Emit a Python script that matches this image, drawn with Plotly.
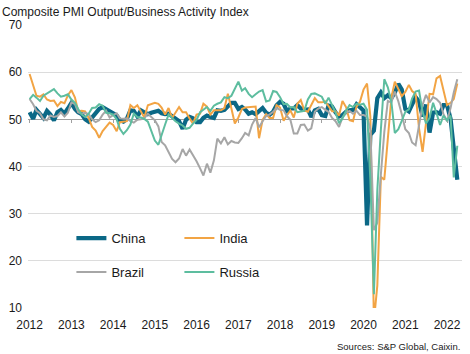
import pandas as pd
import plotly.graph_objects as go

months = pd.date_range("2012-01-01", "2022-04-01", freq="MS")

china = [
    51.5, 50.1, 52.0, 51.1, 50.3, 51.8, 51.0, 49.8, 51.5, 52.0, 51.2, 52.3,
    53.5, 52.2, 51.5, 51.1, 50.0, 49.5, 50.4, 51.5, 52.2, 52.6, 52.2, 51.9,
    51.3, 50.8, 49.8, 49.5, 50.1, 51.9, 51.8, 50.6, 51.9, 51.5, 51.1, 51.4,
    51.7, 51.8, 51.3, 51.1, 51.2, 50.6, 50.3, 49.6, 48.0, 49.9, 50.5, 50.2,
    49.4, 49.4, 50.3, 50.8, 50.5, 50.3, 51.9, 51.8, 52.0, 52.9, 53.5, 53.5,
    52.2, 52.6, 52.1, 51.2, 51.5, 51.1, 51.9, 52.4, 51.4, 51.0, 51.6, 53.0,
    53.7, 53.3, 51.8, 52.3, 52.3, 53.0, 52.3, 52.0, 52.1, 50.5, 51.9, 52.2,
    50.9, 50.7, 52.9, 52.7, 51.5, 50.6, 50.9, 51.6, 51.9, 52.0, 53.2, 52.6,
    51.9, 27.5, 46.7, 47.6, 54.5, 55.7, 54.5, 55.1, 54.5, 55.7, 57.5, 56.3,
    52.2, 51.7, 53.1, 54.7, 53.8, 50.6, 53.1, 47.2, 51.4, 51.5, 51.2, 53.0,
    53.0, 50.1, 43.9, 37.2,
]
india = [
    59.6, 57.0, 55.0, 54.8, 55.3, 54.2, 53.9, 54.0, 52.8, 53.7, 53.4, 55.1,
    56.2, 54.6, 51.7, 51.8, 51.7, 50.3, 48.4, 47.6, 46.1, 47.5, 48.5, 49.3,
    48.8, 47.5, 49.4, 49.5, 49.6, 53.0, 52.4, 53.0, 51.6, 50.4, 53.0, 53.3,
    53.5, 53.3, 52.5, 51.0, 52.4, 50.3, 51.5, 52.6, 51.5, 51.5, 50.2, 49.1,
    51.0, 51.2, 53.3, 52.7, 51.0, 51.9, 51.9, 51.9, 52.4, 55.4, 52.3, 49.1,
    50.4, 52.2, 52.5, 52.6, 52.7, 52.7, 46.0, 49.9, 51.1, 50.3, 50.3, 53.0,
    52.5, 49.7, 50.8, 51.9, 50.4, 53.3, 54.1, 51.9, 51.6, 53.0, 54.5, 53.6,
    53.6, 53.8, 52.7, 51.7, 51.7, 50.8, 53.9, 52.6, 49.8, 49.6, 52.7, 53.7,
    56.3, 57.6, 50.6, 7.2, 14.8, 37.8, 37.2, 46.0, 54.6, 58.0, 56.3, 54.9,
    55.8, 57.3, 56.0, 55.4, 48.1, 43.1, 49.2, 55.4, 55.3, 58.7, 59.2, 56.4,
    53.0, 53.5, 54.3, 57.6,
]
brazil = [
    54.3, 53.2, 51.8, 51.3, 50.0, 49.8, 50.8, 50.5, 50.7, 51.5, 50.6, 51.4,
    53.6, 53.2, 51.5, 51.2, 51.4, 51.1, 50.0, 49.4, 49.8, 51.0, 51.8, 50.4,
    50.9, 51.3, 50.2, 50.1, 50.2, 49.6, 49.3, 49.9, 50.0, 50.2, 51.2, 50.6,
    49.8, 48.5, 45.2, 44.5, 43.0, 41.6, 40.9, 41.7, 43.7, 42.3, 43.6, 42.5,
    41.1, 39.6, 38.1, 40.6, 38.7, 41.3, 45.9, 44.9, 46.2, 44.7, 45.4, 45.1,
    45.0, 46.0, 47.1, 46.6, 48.9, 50.3, 48.3, 49.6, 50.7, 51.0, 51.6, 52.4,
    52.0, 51.9, 50.7, 49.9, 47.0, 47.0, 48.8, 48.9, 47.6, 48.1, 51.6, 52.3,
    52.6, 52.0, 51.6, 50.3, 49.6, 48.4, 50.4, 51.4, 51.8, 51.2, 51.8, 50.9,
    50.9, 50.6, 47.9, 26.5, 28.1, 38.3, 47.3, 53.9, 53.6, 55.9, 53.8, 51.1,
    47.9, 47.1, 45.1, 44.5, 49.2, 53.1, 55.2, 53.6, 54.7, 54.3, 53.5, 51.1,
    49.6, 52.4, 55.7, 58.5,
]
russia = [
    54.3, 55.2, 54.6, 53.9, 55.0, 55.5, 56.0, 56.4, 55.5, 54.8, 55.0, 55.3,
    54.2, 53.5, 52.2, 51.0, 50.5, 51.2, 52.4, 52.5, 53.2, 52.9, 51.4, 51.3,
    51.0, 50.0, 48.0, 46.9, 47.7, 48.9, 51.2, 50.5, 50.4, 50.1, 49.5, 47.5,
    45.5, 44.6, 46.8, 48.9, 51.0, 50.2, 49.6, 49.1, 48.7, 48.0, 48.2, 49.1,
    49.9, 51.5, 52.0, 52.6, 51.8, 52.9, 53.3, 53.6, 54.7, 54.5, 55.0, 56.5,
    58.0, 56.1, 56.6, 55.4, 54.7, 55.3, 55.9, 56.2, 53.8, 54.0, 56.0, 55.8,
    54.7, 53.2, 53.3, 52.5, 52.6, 51.5, 51.7, 51.8, 54.2, 55.4, 55.5, 55.1,
    54.8, 53.3, 54.6, 53.0, 51.5, 49.2, 50.2, 51.8, 53.0, 52.6, 53.3, 53.1,
    53.3, 52.0, 37.2, 12.9, 35.0, 47.8, 58.5, 56.8, 53.7, 47.1, 47.9, 49.7,
    51.6, 52.1, 54.4, 55.9, 56.1, 51.6, 49.1, 50.3, 53.5, 51.3, 48.8, 50.8,
    49.8, 50.8, 37.7, 44.4,
]

y_ticks = [10, 20, 30, 40, 50, 60, 70]
x_tick_labels = [str(y) for y in range(2012, 2023)]
x_tick_vals = [f"{y}-01-01" for y in range(2012, 2023)]

FONT = "Arial, Liberation Sans, sans-serif"
TXT = "#1a1a1a"

series = [
    ("China", china, "#0b6886", 4.2, "legend"),
    ("India", india, "#f2a444", 2, "legend"),
    ("Brazil", brazil, "#a6a6a6", 2, "legend2"),
    ("Russia", russia, "#5dbd9f", 2, "legend2"),
]

fig = go.Figure()
for name, vals, color, w, lg in series:
    fig.add_trace(go.Scatter(
        x=months, y=vals, mode="lines", name=name,
        line=dict(color=color, width=w), legend=lg,
    ))

# invisible trace to host the axis-at-50 tick line
fig.add_trace(go.Scatter(x=months, y=china, xaxis="x2", mode="lines",
                         line=dict(width=0), opacity=0, showlegend=False,
                         hoverinfo="skip"))

xrange = ["2011-12-18", "2022-05-12"]
fig.update_layout(
    width=470, height=354,
    margin=dict(l=28, r=8, t=25, b=46),
    paper_bgcolor="white", plot_bgcolor="white",
    font=dict(family=FONT, size=12, color=TXT),
    xaxis=dict(
        range=xrange, tickvals=x_tick_vals, ticktext=x_tick_labels,
        showgrid=False, zeroline=False, showline=False, ticks="",
        tickfont=dict(size=12, color=TXT), ticklabelstandoff=8,
    ),
    xaxis2=dict(
        range=xrange, overlaying="x", anchor="free", position=(50 - 10) / 60,
        showline=True, linecolor="#a0a0a0", linewidth=1,
        ticks="outside", ticklen=3, tickcolor="#a0a0a0",
        tickvals=x_tick_vals, showticklabels=False, showgrid=False,
        zeroline=False, layer="below traces",
    ),
    yaxis=dict(
        range=[10, 70], tickvals=y_ticks, showgrid=True,
        gridcolor="#dcdcdc", gridwidth=1, zeroline=False, showline=False,
        ticks="", tickfont=dict(size=12, color=TXT), ticklabelstandoff=5,
    ),
    legend=dict(
        orientation="h", x=0.10, y=0.247, xanchor="left", yanchor="middle",
        bgcolor="rgba(0,0,0,0)", font=dict(size=13, color=TXT),
        entrywidth=63, entrywidthmode="pixels", itemwidth=30,
    ),
    legend2=dict(
        orientation="h", x=0.10, y=0.127, xanchor="left", yanchor="middle",
        bgcolor="rgba(0,0,0,0)", font=dict(size=13, color=TXT),
        entrywidth=63, entrywidthmode="pixels", itemwidth=30,
    ),
    showlegend=True,
    annotations=[
        dict(text="Composite PMI Output/Business Activity Index",
             xref="paper", yref="paper", x=-28 / 434, y=1 + 13 / 283,
             xanchor="left", yanchor="middle", showarrow=False,
             font=dict(size=12, color=TXT)),
        dict(text="Sources: S&P Global, Caixin.",
             xref="paper", yref="paper", x=1.0, y=-38 / 283,
             xanchor="right", yanchor="middle", showarrow=False,
             font=dict(size=9.5, color=TXT)),
    ],
)

fig.write_html("out.html")
